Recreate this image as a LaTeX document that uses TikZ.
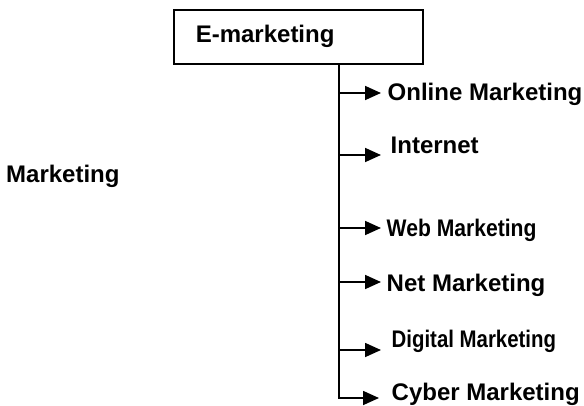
\documentclass[tikz,border=0pt]{standalone}
\usepackage{fontspec}
\setmainfont{Liberation Sans}
\usepackage{graphicx}
\usetikzlibrary{arrows.meta}

\begin{document}
\begin{tikzpicture}[x=1pt, y=-1pt, font=\fontsize{24}{28}\selectfont\bfseries,
	lbl/.style={anchor=base west, inner sep=0pt},
	branch/.style={line width=1.7pt, -{Triangle[length=16pt, width=14pt]}}]
	\useasboundingbox (0,0) rectangle (584,405);
	\coordinate (trunk) at (339,0);
	\node[draw, line width=1.6pt, anchor=north west, minimum width=249pt, minimum height=54pt,
		text width=205pt, inner xsep=22pt, inner ysep=0pt, align=left] (emkt) at (173,9) {E-marketing};
	\node[lbl] (mkt) at (6,182) {Marketing};
%	arrow ends
	\coordinate (a1) at (381,93);
	\coordinate (a2) at (381,155);
	\coordinate (a3) at (381,228);
	\coordinate (a4) at (381,282);
	\coordinate (a5) at (381,350);
	\coordinate (a6) at (379,398);
	\node[lbl] (onl) at (387.5,100) {Online Marketing};
	\node[lbl] (inet) at (390.5,153) {Internet};
	\node[lbl] (web) at (386.5,236) {\scalebox{0.88}[1]{Web Marketing}};
	\node[lbl] (net) at (386.5,291) {Net Marketing};
	\node[lbl] (dig) at (391.5,347) {\scalebox{0.85}[1]{Digital Marketing}};
	\node[lbl] (cyb) at (391.5,400) {Cyber Marketing};
	\draw [branch] (emkt.south -| trunk) |- (a6);
	\draw [branch] (a1 -| trunk) -- (a1);
	\draw [branch] (a2 -| trunk) -- (a2);
	\draw [branch] (a3 -| trunk) -- (a3);
	\draw [branch] (a4 -| trunk) -- (a4);
	\draw [branch] (a5 -| trunk) -- (a5);

\end{tikzpicture}
\end{document}
